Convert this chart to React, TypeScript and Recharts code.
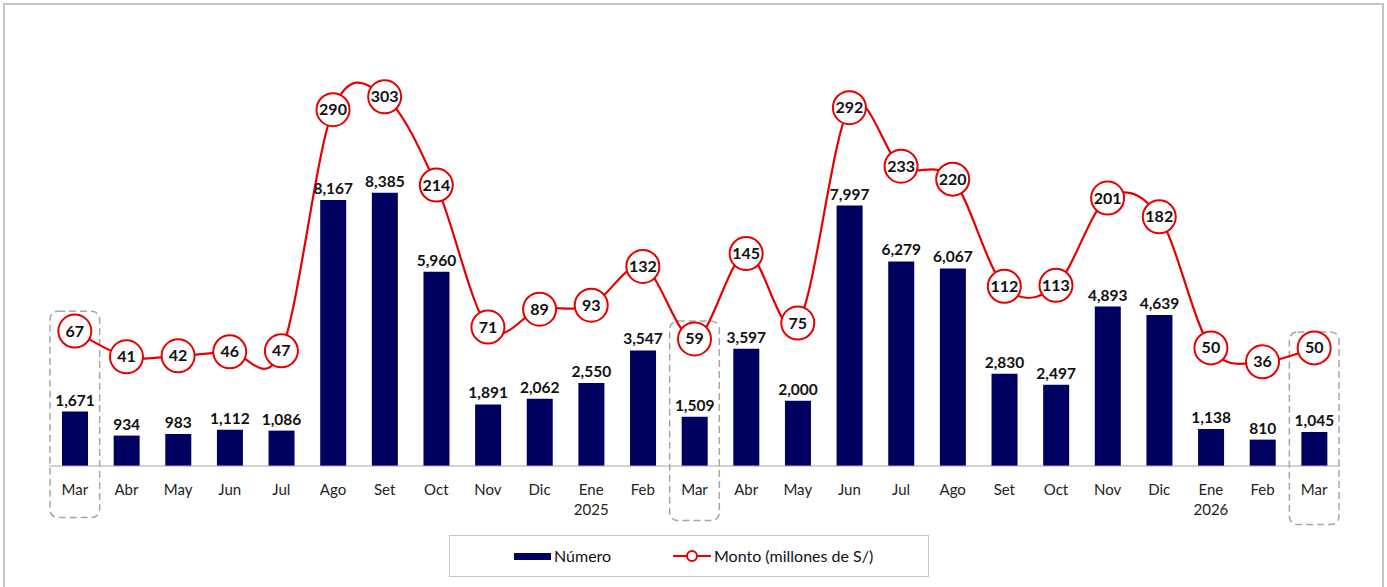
import React from "react"
import { Bar, ComposedChart, LabelList, Line, ReferenceArea, XAxis, YAxis } from "recharts"

const months = ["Mar", "Abr", "May", "Jun", "Jul", "Ago", "Set", "Oct", "Nov", "Dic", "Ene", "Feb", "Mar", "Abr", "May", "Jun", "Jul", "Ago", "Set", "Oct", "Nov", "Dic", "Ene", "Feb", "Mar"]
const years = ["", "", "", "", "", "", "", "", "", "", "2025", "", "", "", "", "", "", "", "", "", "", "", "2026", "", ""]
const numero = [1671, 934, 983, 1112, 1086, 8167, 8385, 5960, 1891, 2062, 2550, 3547, 1509, 3597, 2000, 7997, 6279, 6067, 2830, 2497, 4893, 4639, 1138, 810, 1045]
const monto = [67, 41, 42, 46, 47, 290, 303, 214, 71, 89, 93, 132, 59, 145, 75, 292, 233, 220, 112, 113, 201, 182, 50, 36, 50]

// dashed boxes around each "Mar", top/bottom in monto units
const highlights = [
  { key: "m0", top: 87, bottom: -121 },
  { key: "m12", top: 77, bottom: -124 },
  { key: "m24", top: 66, bottom: -128 },
]

const NAVY = "#000060"
const RED = "#E60000"
const FONT = "Lato, 'Open Sans', sans-serif"

const data = months.map((m, i) => ({ key: "m" + i, month: m, year: years[i], numero: numero[i], monto: monto[i] }))

// excel-like smoothed line (catmull-rom)
function smoothCurve(context: any) {
  let pts: number[][] = []
  return {
    areaStart() {},
    areaEnd() {},
    lineStart() { pts = [] },
    point(x: number, y: number) { pts.push([+x, +y]) },
    lineEnd() {
      if (!pts.length) return
      context.moveTo(pts[0][0], pts[0][1])
      for (let i = 0; i < pts.length - 1; i++) {
        const p0 = pts[Math.max(0, i - 1)], p1 = pts[i], p2 = pts[i + 1], p3 = pts[Math.min(pts.length - 1, i + 2)]
        const t = 1 / 6
        context.bezierCurveTo(
          p1[0] + (p2[0] - p0[0]) * t, p1[1] + (p2[1] - p0[1]) * t,
          p2[0] - (p3[0] - p1[0]) * t, p2[1] - (p3[1] - p1[1]) * t,
          p2[0], p2[1],
        )
      }
    },
  }
}

function MonthTick({ x, y, payload }: any) {
  const row = data.find((d) => d.key === payload.value)
  return (
    <text x={x} y={y + 21} textAnchor="middle" fontFamily={FONT} fontSize={15} fill="#222">
      <tspan x={x}>{row?.month}</tspan>
      {row?.year ? <tspan x={x} dy={20}>{row.year}</tspan> : null}
    </text>
  )
}

function BubbleDot({ cx, cy, value, index }: any) {
  return (
    <g key={"dot" + index}>
      <circle cx={cx} cy={cy} r={16.5} fill="#fff" stroke={RED} strokeWidth={2} />
      <text x={cx} y={cy} dy={5.5} textAnchor="middle" fontFamily={FONT} fontWeight={700} fontSize={16} fill="#111">{value}</text>
    </g>
  )
}

function DashedBox({ x, y, width, height }: any) {
  return <rect x={x + 1} y={y} width={width - 2} height={height} rx={8} fill="none" stroke="#a6a6a6" strokeWidth={1.5} strokeDasharray="7 4" />
}

export default function App() {
  return (
    <div style={{ position: "absolute", left: 0, top: 0, width: 1387, height: 587, background: "#fff", overflow: "hidden", fontFamily: FONT }}>
      <div style={{ position: "absolute", left: 3, top: 3, width: 1377, height: 620, border: "2px solid #c4c4c4" }} />
      <div style={{ position: "absolute", left: 0, top: 0 }}>
        <ComposedChart width={1387} height={587} data={data} margin={{ top: 66, right: 47, bottom: 91, left: 49 }}>
          <XAxis dataKey="key" interval={0} tickLine={false} axisLine={{ stroke: "#a6a6a6" }} tick={<MonthTick />} height={30} />
          <YAxis yAxisId="left" hide domain={[0, 12280]} />
          <YAxis yAxisId="right" orientation="right" hide domain={[-69, 334]} />
          {highlights.map((h) => (
            <ReferenceArea key={h.key} yAxisId="right" x1={h.key} x2={h.key} y1={h.bottom} y2={h.top} ifOverflow="visible" shape={<DashedBox />} />
          ))}
          <Bar yAxisId="left" dataKey="numero" fill={NAVY} barSize={26} isAnimationActive={false}>
            <LabelList dataKey="numero" position="top" offset={6} formatter={(v: any) => Number(v).toLocaleString("en-US")} style={{ fontFamily: FONT, fontWeight: 700, fontSize: 15.5, fill: "#111" }} />
          </Bar>
          <Line yAxisId="right" dataKey="monto" type={smoothCurve as any} stroke={RED} strokeWidth={2.2} dot={<BubbleDot />} activeDot={false} isAnimationActive={false} />
        </ComposedChart>
      </div>
      <div style={{ position: "absolute", left: 449, top: 535, width: 480, height: 42, border: "1px solid #c8c8c8", boxSizing: "border-box", fontSize: 16, color: "#111" }}>
        <div style={{ position: "absolute", left: 64, top: 17, width: 37, height: 7, background: NAVY }} />
        <div style={{ position: "absolute", left: 104, top: 10, lineHeight: "20px" }}>Número</div>
        <svg style={{ position: "absolute", left: 222, top: 10 }} width={40} height={20}>
          <line x1={1} y1={10} x2={39} y2={10} stroke={RED} strokeWidth={2} />
          <circle cx={20} cy={10} r={5} fill="#fff" stroke={RED} strokeWidth={2} />
        </svg>
        <div style={{ position: "absolute", left: 264, top: 10, lineHeight: "20px" }}>Monto (millones de S/)</div>
      </div>
    </div>
  )
}
